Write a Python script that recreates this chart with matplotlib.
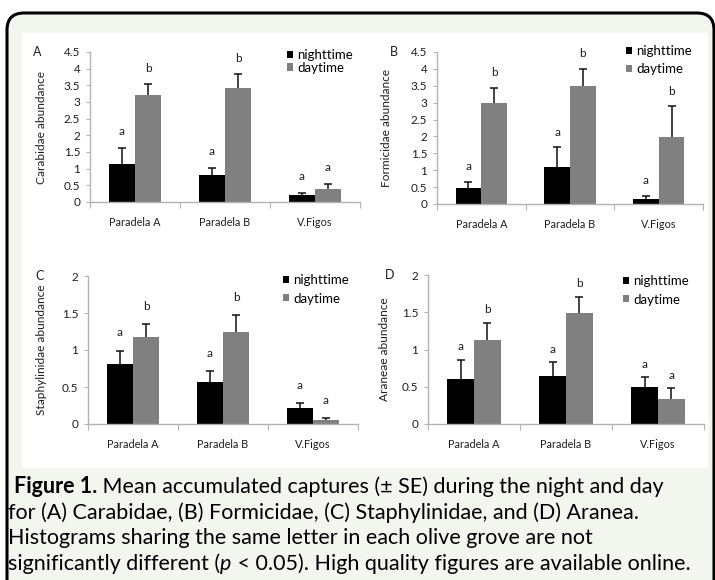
import numpy as np
import matplotlib
matplotlib.use('Agg')
import matplotlib.pyplot as plt
from matplotlib.patches import FancyBboxPatch, Rectangle

plt.rcParams['font.family'] = ['Lato', 'DejaVu Sans']

W, H = 715, 580

sitios = ['Paradela A', 'Paradela B', 'V.Figos']
legendas = ['nighttime', 'daytime']

carab_noite = [1.15, 0.80, 0.20]
carab_noite_se = [0.47, 0.23, 0.07]
carab_dia = [3.21, 3.42, 0.38]
carab_dia_se = [0.32, 0.41, 0.16]
carab_letras_noite = ['a', 'a', 'a']
carab_letras_dia = ['b', 'b', 'a']

formi_noite = [0.48, 1.10, 0.16]
formi_noite_se = [0.18, 0.58, 0.09]
formi_dia = [2.99, 3.48, 1.99]
formi_dia_se = [0.45, 0.52, 0.90]
formi_letras_noite = ['a', 'a', 'a']
formi_letras_dia = ['b', 'b', 'b']

staph_noite = [0.81, 0.57, 0.21]
staph_noite_se = [0.18, 0.14, 0.07]
staph_dia = [1.17, 1.25, 0.05]
staph_dia_se = [0.18, 0.22, 0.03]
staph_letras_noite = ['a', 'a', 'a']
staph_letras_dia = ['b', 'b', 'a']

aran_noite = [0.61, 0.65, 0.49]
aran_noite_se = [0.25, 0.18, 0.14]
aran_dia = [1.13, 1.49, 0.34]
aran_dia_se = [0.23, 0.22, 0.14]
aran_letras_noite = ['a', 'a', 'a']
aran_letras_dia = ['b', 'b', 'a']

COR_NOITE = '#000000'
COR_DIA = '#808080'
COR_EIXO = '#b3b3b3'
COR_TXT = '#1e1e1e'


def px(x0, y0, x1, y1):
    # caixa em pixeis (topo-esquerda) -> fracção da figura
    return [x0 / W, 1 - y1 / H, (x1 - x0) / W, (y1 - y0) / H]


fig = plt.figure(figsize=(W / 100, H / 100), dpi=100)
fig.patch.set_facecolor('white')

# moldura arredondada e fundo verde-claro
fig.add_artist(FancyBboxPatch((7 / 100, -0.3), 707 / 100, (H - 13) / 100 + 0.3,
                              boxstyle='round,pad=0,rounding_size=0.17',
                              transform=fig.dpi_scale_trans, fc='#f3f6ef',
                              ec='black', lw=2.2, zorder=-2))
fig.add_artist(Rectangle((22 / 100, (H - 468) / 100), 686 / 100, 435 / 100,
                         transform=fig.dpi_scale_trans, fc='white', ec='none', zorder=-1))


def painel(caixa, noite, noite_se, dia, dia_se, let_noite, let_dia, ymax, ylabel,
           letra, letra_xy, ylab_dx, leg_xy, leg_esp, off_let):
    ax = fig.add_axes(px(*caixa))
    ax.set_facecolor('none')
    x = np.arange(len(sitios)) + 0.5
    w = 0.29
    noite = np.array(noite); dia = np.array(dia)
    noite_se = np.array(noite_se); dia_se = np.array(dia_se)
    b1 = ax.bar(x - w / 2, noite, w, color=COR_NOITE, label=legendas[0], zorder=2)
    b2 = ax.bar(x + w / 2, dia, w, color=COR_DIA, label=legendas[1], zorder=2)
    for xx, m, se in ((x - w / 2, noite, noite_se), (x + w / 2, dia, dia_se)):
        ax.vlines(xx, m, m + se, color='#111111', lw=1.1, zorder=3)
        ax.plot(xx, m + se, ls='none', marker='_', ms=6, mew=1.1, color='#111111', zorder=3)
    for xx, m, se, lets in ((x - w / 2, noite, noite_se, let_noite),
                            (x + w / 2, dia, dia_se, let_dia)):
        for i in range(len(xx)):
            ax.annotate(lets[i], (xx[i], m[i] + se[i]), xytext=(0, off_let * 0.72),
                        textcoords='offset points', ha='center', va='center',
                        fontsize=8.5, color=COR_TXT)
    ax.set_xlim(0, 3)
    ax.set_ylim(0, ymax)
    ax.set_yticks(np.arange(0, ymax + 0.01, 0.5))
    ax.set_yticklabels(['%g' % v for v in np.arange(0, ymax + 0.01, 0.5)])
    ax.set_xticks([0, 1, 2, 3])
    ax.set_xticklabels([])
    ax.set_xticks(x, minor=True)
    ax.set_xticklabels(sitios, minor=True)
    ax.tick_params(axis='x', which='major', length=4, color=COR_EIXO, direction='out')
    ax.tick_params(axis='x', which='minor', length=0, pad=11, labelsize=7.8, labelcolor=COR_TXT)
    ax.tick_params(axis='y', length=3, color=COR_EIXO, pad=4, labelsize=8.5, labelcolor=COR_TXT)
    for s in ('top', 'right'):
        ax.spines[s].set_visible(False)
    for s in ('left', 'bottom'):
        ax.spines[s].set_color(COR_EIXO)
        ax.spines[s].set_linewidth(1)
    ax.set_ylabel(ylabel, fontsize=8.6, color=COR_TXT)
    ax.yaxis.set_label_coords(-ylab_dx / (caixa[2] - caixa[0]), 0.5)
    fig.text(letra_xy[0] / W, 1 - letra_xy[1] / H, letra, fontsize=9, color=COR_TXT,
             ha='center', va='center')
    ax.legend(handles=[b1, b2], loc='upper left',
              bbox_to_anchor=(leg_xy[0] / W, 1 - leg_xy[1] / H),
              bbox_transform=fig.transFigure, frameon=False, fontsize=9.5,
              handlelength=0.45, handleheight=0.45, handletextpad=0.35,
              labelspacing=leg_esp, borderpad=0, borderaxespad=0)
    return ax


painel((90, 52, 360, 202), carab_noite, carab_noite_se, carab_dia, carab_dia_se,
       carab_letras_noite, carab_letras_dia, 4.5, 'Carabidae abundance',
       'A', (37, 52), 43, (287, 49), 0.05, 16)
painel((437, 52, 703, 204), formi_noite, formi_noite_se, formi_dia, formi_dia_se,
       formi_letras_noite, formi_letras_dia, 4.5, 'Formicidae abundance',
       'B', (394, 52), 45, (626, 45), 0.45, 15)
painel((88, 276, 358, 424), staph_noite, staph_noite_se, staph_dia, staph_dia_se,
       staph_letras_noite, staph_letras_dia, 2, 'Staphylinidae abundance',
       'C', (40, 276), 41, (283, 274), 0.5, 18)
painel((428, 275, 704, 424), aran_noite, aran_noite_se, aran_dia, aran_dia_se,
       aran_letras_noite, aran_letras_dia, 2, 'Araneae abundance',
       'D', (390, 275), 38, (623, 275), 0.5, 13)

# legenda da figura
cap = fig.add_axes([0, 0, 1, 1])
cap.axis('off')
cap.set_zorder(5)
fs = 15.5
t = cap.text(14 / W, 1 - 493 / H, 'Figure 1.', fontsize=fs, weight='bold', color='black')
cap.annotate(' Mean accumulated captures (± SE) during the night and day', (1, 0),
             xycoords=t, va='bottom', fontsize=fs, color='black')
cap.text(8 / W, 1 - 519 / H, 'for (A) Carabidae, (B) Formicidae, (C) Staphylinidae, and (D) Aranea.',
         fontsize=fs, color='black')
cap.text(8 / W, 1 - 544 / H, 'Histograms sharing the same letter in each olive grove are not',
         fontsize=fs, color='black')
t4 = cap.text(8 / W, 1 - 570 / H, 'significantly different (', fontsize=fs, color='black')
t5 = cap.annotate('p', (1, 0), xycoords=t4, va='bottom', fontsize=fs, style='italic')
cap.annotate(' < 0.05). High quality figures are available online.', (1, 0), xycoords=t5,
             va='bottom', fontsize=fs, color='black')

fig.savefig('out.png', dpi=100)
